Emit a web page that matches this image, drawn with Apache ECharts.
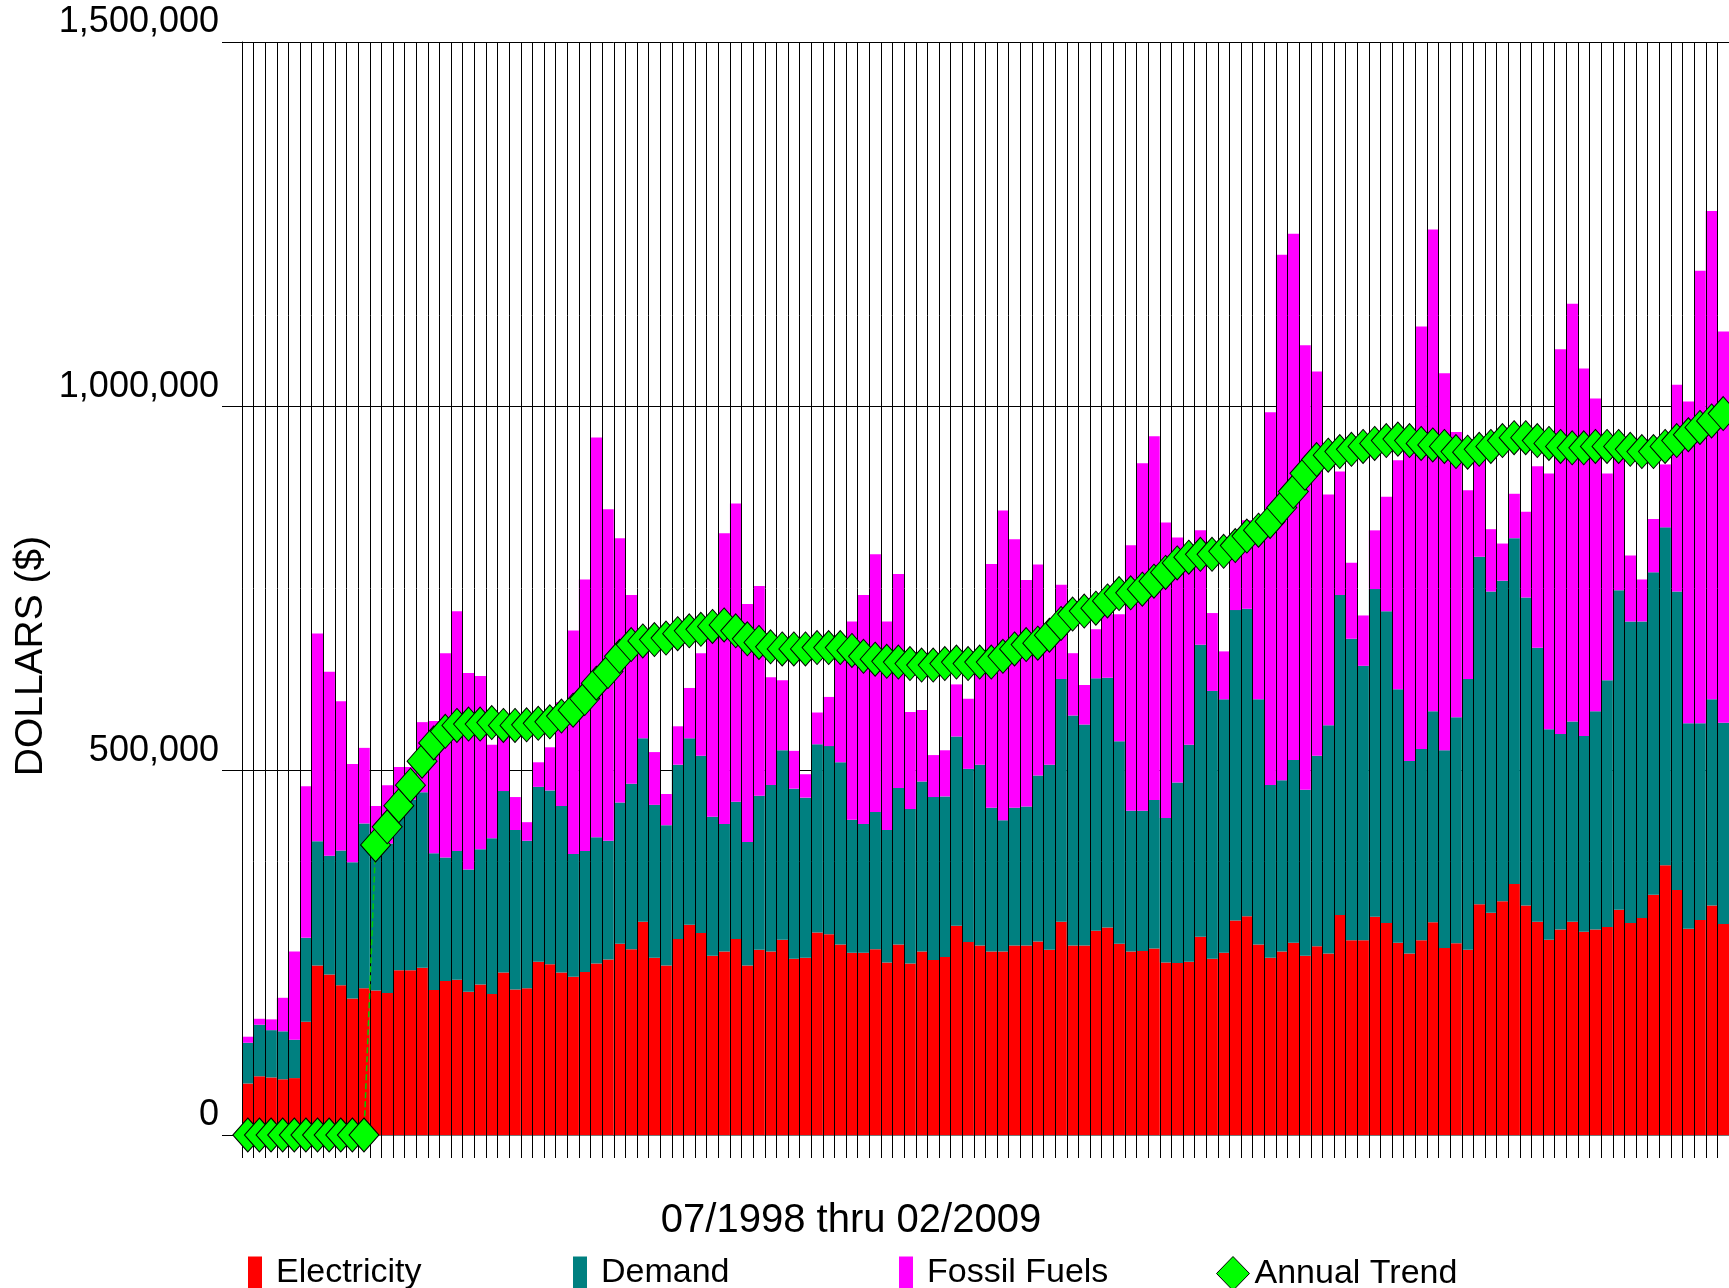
<!DOCTYPE html>
<html>
<head>
<meta charset="utf-8">
<title>Energy costs 07/1998 thru 02/2009</title>
<script src="https://cdn.jsdelivr.net/npm/echarts@6/dist/echarts.min.js"></script>
<style>
  html, body { margin: 0; padding: 0; background: #fff; }
  #chart { width: 1729px; height: 1288px; }
</style>
</head>
<body>
<div id="chart"></div>
<script>
// monthly costs in dollars, 07/1998 .. 02/2009
var electricity = [
  70700, 80600, 79000, 76500, 78100, 155400, 232700, 220400, 205600, 187500,
  201500, 198200, 194900, 226200, 226200, 229400, 199000, 211400, 213000, 196600,
  206500, 193400, 222900, 199800, 201500, 237700, 234400, 222900, 217100, 223700,
  235200, 241000, 262300, 254900, 292800, 243400, 232700, 268900, 288700, 277100,
  245900, 251700, 268900, 232700, 254100, 251700, 268100, 241800, 243400, 278000,
  275500, 261500, 250000, 250000, 254900, 236900, 261500, 235200, 251700, 240100,
  244300, 287000, 264800, 259900, 251700, 251700, 259900, 259900, 265600, 254100,
  292800, 259900, 259900, 280400, 284600, 262300, 251700, 252500, 255800, 236900,
  236000, 237700, 272200, 241800, 250000, 294400, 300200, 261500, 243400, 251700,
  264000, 245900, 259100, 249200, 301800, 267300, 267300, 299400, 291100, 264000,
  249200, 267300, 292000, 256600, 263200, 254100, 316600, 305100, 320700, 344600,
  315000, 292800, 268100, 282100, 292800, 278800, 282100, 285400, 309200, 291100,
  297700, 329800, 370100, 336400, 282900, 295200, 315000, 289500
];
var demand = [
  55900, 70700, 64900, 65800, 52700, 115200, 170300, 162800, 185000, 186700,
  226100, 197800, 205100, 213800, 233800, 241000, 187500, 169400, 176800, 167600,
  185800, 213700, 249100, 218800, 202300, 240100, 238500, 228600, 168600, 166100,
  173500, 162800, 194100, 227000, 251600, 209700, 192500, 239300, 255700, 243500,
  190800, 175100, 188400, 169500, 211400, 228600, 259900, 233500, 219600, 258200,
  258200, 250000, 182600, 176800, 188400, 181700, 214700, 212200, 233500, 223700,
  220400, 259900, 237700, 248300, 197300, 180100, 189100, 190800, 227800, 254100,
  333000, 315800, 303400, 346300, 342900, 278000, 193200, 192400, 203900, 198100,
  247600, 297700, 400500, 367600, 347900, 426000, 421900, 336400, 236900, 235200,
  250800, 227800, 261500, 313300, 439200, 413600, 376600, 449800, 427700, 347900,
  264000, 262300, 289400, 271400, 310000, 371700, 477000, 440800, 440000, 474500,
  422700, 375800, 288700, 268100, 274700, 268900, 299300, 338800, 438400, 413700,
  407100, 442400, 463800, 409500, 282100, 269800, 282900, 276300
];
var fossilFuels = [
  8300, 8200, 14800, 46000, 120900, 208000, 285300, 252500, 204800, 134900,
  103700, 55500, 80000, 65000, 45000, 96200, 181800, 280400, 328900, 269900,
  237700, 128300, 74000, 45200, 25500, 33700, 59200, 142300, 306800, 372600,
  548600, 454800, 362700, 259100, 129100, 72400, 42800, 52700, 69100, 140600,
  265300, 398900, 409500, 326400, 287800, 148000, 96200, 51900, 32100, 43600,
  67500, 153800, 272200, 314200, 353600, 286200, 293600, 133200, 97900, 57600,
  63300, 71500, 96200, 136600, 334700, 425200, 368500, 310800, 289500, 169500,
  129200, 85500, 54300, 67400, 87200, 174400, 364300, 477000, 499200, 405500,
  336300, 253300, 157100, 106900, 65800, 76500, 121700, 244100, 511500, 721200,
  722100, 610200, 527100, 316600, 169400, 104500, 69100, 80600, 157000, 314100,
  427600, 579800, 661200, 517300, 391500, 259100, 134900, 85500, 51000, 60900,
  117600, 249200, 351100, 528000, 573200, 504100, 429300, 283700, 180900, 90500,
  57600, 73200, 86400, 283700, 441600, 620900, 670200, 537000
];
// annual trend as drawn (zero until a full year is in)
var annualTrend = [
  0, 0, 0, 0, 0, 0, 0, 0, 0, 0,
  0, 398000, 423000, 452000, 480000, 513000, 538000, 554000, 562000, 564000,
  564000, 566000, 562000, 562000, 563000, 565000, 567000, 575000, 583000, 599000,
  620000, 636000, 657000, 673000, 678000, 680000, 682000, 688000, 692000, 694000,
  698000, 700000, 692000, 681000, 676000, 670000, 667000, 667000, 667000, 669000,
  669000, 669000, 665000, 657000, 653000, 650000, 649000, 647000, 645000, 645000,
  647000, 649000, 647000, 649000, 649000, 657000, 667000, 673000, 675000, 686000,
  702000, 715000, 719000, 723000, 733000, 743000, 744000, 749000, 760000, 772000,
  785000, 793000, 797000, 797000, 801000, 809000, 822000, 830000, 842000, 861000,
  883000, 908000, 927000, 933000, 938000, 941000, 945000, 949000, 953000, 955000,
  953000, 949000, 947000, 945000, 938000, 937000, 941000, 945000, 953000, 957000,
  957000, 953000, 949000, 945000, 943000, 943000, 945000, 945000, 945000, 941000,
  938000, 938000, 945000, 953000, 961000, 971000, 980000, 990000
];
var yTicks = [0, 500000, 1000000, 1500000];
var periodLabel = "07/1998 thru 02/2009";
var axisTitle = "DOLLARS ($)";

// month labels for the category axis
var months = [];
for (var i = 0; i < electricity.length; i++) {
  var m = (6 + i) % 12 + 1;
  var y = 1998 + Math.floor((6 + i) / 12);
  months.push((m < 10 ? "0" + m : "" + m) + "/" + y);
}

var FONT = "'Liberation Sans', Arial, sans-serif";

var legendItem = function (name, left, w, h, icon, pad) {
  return {
    data: [{ name: name, icon: icon }],
    left: left,
    top: 1251,
    itemWidth: w,
    itemHeight: h,
    selectedMode: false,
    textStyle: { fontSize: 34, color: "#000", fontFamily: FONT, padding: [0, 0, 0, pad] },
  };
};

var option = {
  animation: false,
  backgroundColor: "#fff",
  grid: { left: 242, top: 42, right: -6, bottom: 153 },
  legend: [
    legendItem("Electricity", 243, 14, 33, "rect", 9),
    legendItem("Demand", 568, 14, 33, "rect", 9),
    legendItem("Fossil Fuels", 894, 14, 33, "rect", 9),
    Object.assign(legendItem("Annual Trend", 1211, 33, 34, "diamond", 0), {
      itemStyle: { color: "#00ff00", borderColor: "#000", borderWidth: 1 },
    }),
  ],
  xAxis: {
    type: "category",
    data: months,
    boundaryGap: true,
    z: 3, // grid lines sit on top of the bars
    axisLine: { lineStyle: { color: "#777", width: 1 } },
    axisTick: { show: true, interval: 0, length: 23, lineStyle: { color: "#000" } },
    axisLabel: { show: false },
    splitLine: { show: true, interval: 0, lineStyle: { color: "#000", width: 1 } },
  },
  yAxis: {
    type: "value",
    min: yTicks[0],
    max: yTicks[yTicks.length - 1],
    interval: yTicks[1] - yTicks[0],
    axisLine: { show: true, lineStyle: { color: "#000" } },
    axisTick: { show: true, length: 20, lineStyle: { color: "#000" } },
    axisLabel: {
      margin: 23,
      fontSize: 36,
      color: "#000",
      fontFamily: FONT,
      verticalAlign: "bottom",
      lineHeight: 39,
      formatter: function (v) { return v.toLocaleString("en-US"); },
    },
    splitLine: { show: true, lineStyle: { color: "#000", width: 1 } },
  },
  series: [
    {
      name: "Electricity",
      type: "bar",
      stack: "cost",
      barCategoryGap: "0%",
      itemStyle: { color: "#ff0000" },
      data: electricity,
    },
    {
      name: "Demand",
      type: "bar",
      stack: "cost",
      barCategoryGap: "0%",
      itemStyle: { color: "#008080" },
      data: demand,
    },
    {
      name: "Fossil Fuels",
      type: "bar",
      stack: "cost",
      barCategoryGap: "0%",
      itemStyle: { color: "#ff00ff" },
      data: fossilFuels,
    },
    {
      name: "Annual Trend",
      type: "line",
      z: 5,
      symbol: "diamond",
      symbolSize: [30, 34],
      showAllSymbol: true,
      itemStyle: { color: "#00ff00", borderColor: "#000", borderWidth: 1 },
      lineStyle: { color: "#00cc00", width: 1.5, type: "dashed" },
      data: annualTrend,
    },
  ],
  graphic: [
    {
      type: "text",
      x: 851,
      y: 1221,
      style: {
        text: periodLabel,
        font: "40px " + FONT,
        fill: "#000",
        textAlign: "center",
        textVerticalAlign: "middle",
      },
    },
    {
      type: "text",
      x: 31,
      y: 656,
      rotation: Math.PI / 2,
      style: {
        text: axisTitle,
        font: "39px " + FONT,
        fill: "#000",
        textAlign: "center",
        textVerticalAlign: "middle",
      },
    },
  ],
};

var myChart = echarts.init(document.getElementById("chart"));
myChart.setOption(option);
</script>
</body>
</html>
